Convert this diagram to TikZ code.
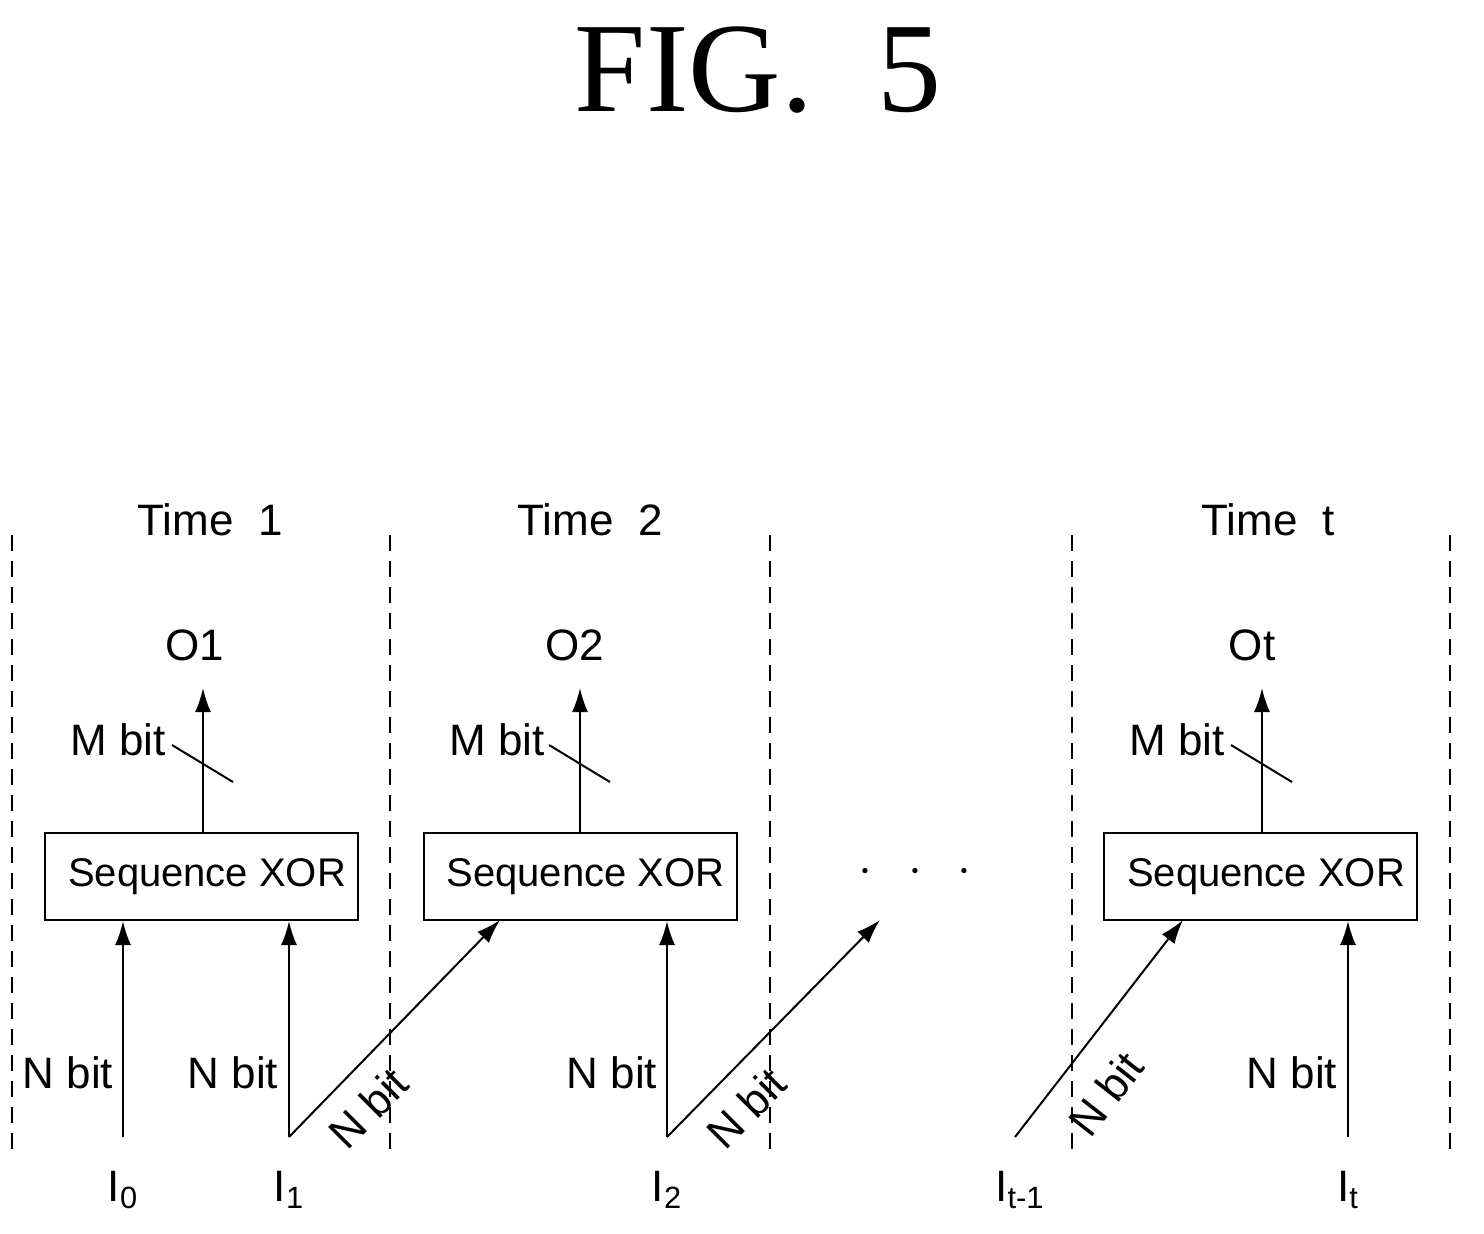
\documentclass[tikz,border=0pt]{standalone}
\usepackage{fontspec}
\setmainfont{Liberation Sans}
\newfontfamily\titlefont{Liberation Serif}
\usetikzlibrary{arrows.meta}
\begin{document}
\begin{tikzpicture}[x=0.5pt,y=-0.5pt,
  lbl/.style={font=\fontsize{22}{26}\selectfont, inner sep=0pt},
  box/.style={draw, line width=1pt, minimum width=156.5pt, minimum height=43.5pt, inner sep=0pt, font=\fontsize{20}{24}\selectfont},
  arr/.style={line width=1pt, -{Latex[length=12pt,width=8pt]}},
  sep/.style={line width=0.8pt, dash pattern=on 8pt off 5pt}]
\useasboundingbox (0,0) rectangle (1484,1233);
\node[font=\titlefont\fontsize{64}{72}\selectfont, inner sep=0pt] (title) at (758,70) {FIG.\ \ 5};
\foreach \x in {12,390,770,1072,1450} \draw[sep] (\x,535) -- (\x,1152);
\node[lbl] (t1) at (210,520) {Time\ \ 1};
\node[lbl] (t2) at (590,520) {Time\ \ 2};
\node[lbl] (tt) at (1268,520) {Time\ \ t};
\node[box] (b1) at (201.5,876.5) {\ Sequence XOR};
\node[box] (b2) at (580,876.5) {\ Sequence XOR};
\node[box] (b3) at (1260.5,876.5) {\ Sequence XOR};
% outputs
\node[lbl] (o1) at (195,645) {O1};
\node[lbl] (o2) at (575,645) {O2};
\node[lbl] (ot) at (1252,645) {Ot};
\coordinate (o1a) at (203,688); \coordinate (o2a) at (580,688); \coordinate (ota) at (1262,688);
\draw[arr] (b1.north -| o1a) -- (o1a);
\draw[arr] (b2.north -| o2a) -- (o2a);
\draw[arr] (b3.north -| ota) -- (ota);
\foreach \x in {203,580,1262} \draw[line width=1pt] (\x-31,745) -- (\x+30,782);
\node[lbl] (m1) at (118,740) {M bit};
\node[lbl] (m2) at (497,740) {M bit};
\node[lbl] (m3) at (1177,740) {M bit};
% inputs
\node[lbl] (i0) at (123,1190) {I\textsubscript{0}};
\node[lbl] (i1) at (289,1190) {I\textsubscript{1}};
\node[lbl] (i2) at (667,1190) {I\textsubscript{2}};
\node[lbl] (itm) at (1020,1190) {I\textsubscript{t-1}};
\node[lbl] (it) at (1348,1190) {I\textsubscript{t}};
\coordinate (s0) at (123,1137); \coordinate (s1) at (289,1137); \coordinate (s2) at (667,1137);
\coordinate (s3) at (1015,1137); \coordinate (s4) at (1348,1137);
\coordinate (d1) at (500,920); \coordinate (d2) at (880,920); \coordinate (d3) at (1183,920);
\draw[arr] (s0) -- (s0 |- b1.south);
\draw[arr] (s1) -- (s1 |- b1.south);
\draw[arr] (s1) -- (d1);
\draw[arr] (s2) -- (s2 |- b2.south);
\draw[arr] (s2) -- (d2);
\draw[arr] (s3) -- (d3);
\draw[arr] (s4) -- (s4 |- b3.south);
\node[lbl] (n0) at (68,1073) {N bit};
\node[lbl] (n1) at (233,1073) {N bit};
\node[lbl] (n2) at (612,1073) {N bit};
\node[lbl] (n4) at (1292,1073) {N bit};
\node[lbl, rotate=45] (n1d) at (368,1108) {N bit};
\node[lbl, rotate=45] (n2d) at (746,1108) {N bit};
\node[lbl, rotate=52] (n3d) at (1106,1094) {N bit};
\node[lbl, font=\fontsize{30}{30}\selectfont] (dots) at (915,872) {$\cdot\ \,\cdot\ \,\cdot$};
\end{tikzpicture}
\end{document}
